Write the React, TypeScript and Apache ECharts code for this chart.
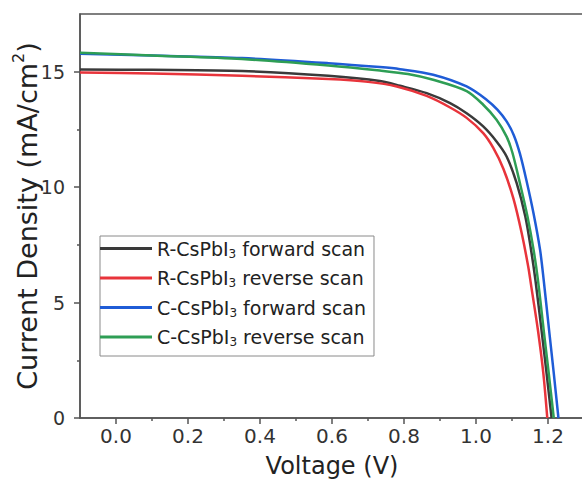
import React, { useEffect, useRef } from "react";
import * as echarts from "echarts";

const FONT = "DejaVu Sans, Liberation Sans, Arial, sans-serif";

// Voltage (V) / current density (mA/cm2)
const rForwardV = [-0.1, 0.1, 0.35, 0.59, 0.733, 0.789, 0.863, 0.928, 0.974, 1.02, 1.057, 1.085, 1.113, 1.137, 1.153, 1.165, 1.182, 1.196, 1.21];
const rForwardJ = [15.1, 15.08, 15.03, 14.82, 14.6, 14.39, 14.07, 13.64, 13.2, 12.63, 11.98, 11.33, 10.17, 8.73, 7.28, 5.98, 3.81, 1.94, 0];

const rReverseV = [-0.1, 0.1, 0.35, 0.59, 0.7, 0.78, 0.863, 0.928, 0.974, 1.02, 1.048, 1.076, 1.104, 1.127, 1.145, 1.155, 1.172, 1.187, 1.198];
const rReverseJ = [14.97, 14.92, 14.82, 14.68, 14.56, 14.36, 13.95, 13.45, 13.0, 12.34, 11.7, 10.8, 9.5, 8.0, 6.56, 5.55, 3.81, 1.94, 0];

const cForwardV = [-0.1, 0.1, 0.35, 0.59, 0.733, 0.789, 0.881, 0.974, 1.03, 1.06, 1.085, 1.105, 1.122, 1.14, 1.16, 1.178, 1.188, 1.203, 1.216, 1.229];
const cForwardJ = [15.78, 15.7, 15.59, 15.37, 15.2, 15.11, 14.87, 14.36, 13.78, 13.35, 12.85, 12.25, 11.45, 10.3, 8.85, 7.28, 5.98, 3.81, 1.94, 0];

const cReverseV = [-0.1, 0.1, 0.35, 0.59, 0.733, 0.811, 0.881, 0.974, 1.02, 1.057, 1.085, 1.101, 1.122, 1.143, 1.16, 1.172, 1.188, 1.202, 1.216];
const cReverseJ = [15.82, 15.7, 15.55, 15.27, 15.05, 14.9, 14.65, 14.16, 13.57, 12.92, 12.19, 11.5, 10.17, 8.73, 7.28, 5.98, 3.81, 1.94, 0];

const seriesNames = [
  "R-CsPbI3 forward scan",
  "R-CsPbI3 reverse scan",
  "C-CsPbI3 forward scan",
  "C-CsPbI3 reverse scan",
];
const seriesColors = ["#3a3a3a", "#e8343b", "#1f5cd6", "#2e9e55"];

const xMajorTicks = [0, 0.2, 0.4, 0.6, 0.8, 1.0, 1.2];
const xMinorTicks = [0.1, 0.3, 0.5, 0.7, 0.9, 1.1];
const yMajorTicks = [0, 5, 10, 15];
const yMinorTicks = [2.5, 7.5, 12.5];

const AXIS_COLOR = "#555";

function pairs(v: number[], j: number[]) {
  return v.map((x, i) => [x, j[i]]);
}

export default function App() {
  const ref = useRef<HTMLDivElement>(null);
  useEffect(() => {
    if (!ref.current) return;
    const chart = echarts.init(ref.current, undefined, { renderer: "svg" });
    const data = [
      pairs(rForwardV, rForwardJ),
      pairs(rReverseV, rReverseJ),
      pairs(cForwardV, cForwardJ),
      pairs(cReverseV, cReverseJ),
    ];
    const axisLineStyle = { color: AXIS_COLOR, width: 1.5 };
    chart.setOption({
      animation: false,
      backgroundColor: "#fff",
      grid: {
        left: 80,
        right: -2,
        top: 14,
        bottom: 65,
        containLabel: false,
        outerBoundsMode: "none",
        show: true,
        borderColor: AXIS_COLOR,
        borderWidth: 1.5,
        backgroundColor: "transparent",
      },
      legend: {
        orient: "vertical",
        left: 100,
        top: 236,
        icon: "rect",
        itemWidth: 52,
        itemHeight: 3,
        itemGap: 9,
        padding: [3, 8, 8, 0],
        borderColor: "#8a8a8a",
        borderWidth: 1,
        backgroundColor: "#fff",
        data: seriesNames,
        formatter: (name: string) => {
          const [pre, post] = name.split("I3 ");
          return `{n|${pre}I}{s|3}{n| ${post}}`;
        },
        textStyle: {
          rich: {
            n: { fontSize: 19, lineHeight: 22, fontFamily: FONT, color: "#222" },
            s: { fontSize: 12, lineHeight: 10, verticalAlign: "bottom", fontFamily: FONT, color: "#222" },
          },
        },
      },
      xAxis: [
        {
          type: "value",
          min: -0.1,
          max: 1.3,
          position: "bottom",
          name: "Voltage (V)",
          nameLocation: "middle",
          nameGap: 36,
          nameTextStyle: { fontSize: 24, fontFamily: FONT, color: "#222" },
          axisLine: { show: true, onZero: false, lineStyle: axisLineStyle },
          axisTick: { show: true, inside: false, length: 6, customValues: xMajorTicks, lineStyle: axisLineStyle },
          axisLabel: {
            customValues: xMajorTicks,
            formatter: (v: number) => v.toFixed(1),
            fontSize: 20,
            fontFamily: FONT,
            color: "#333",
            margin: 8,
          },
          splitLine: { show: false },
        },
        {
          type: "value",
          min: -0.1,
          max: 1.3,
          position: "bottom",
          axisLine: { show: false, onZero: false },
          axisTick: { show: true, inside: false, length: 3, customValues: xMinorTicks, lineStyle: axisLineStyle },
          axisLabel: { show: false },
          splitLine: { show: false },
        },
      ],
      yAxis: [
        {
          type: "value",
          min: 0,
          max: 17.5,
          position: "left",
          name: "{a|Current Density (mA/cm}{b|2}{a|)}",
          nameLocation: "middle",
          nameGap: 35,
          nameMoveOverlap: false,
          nameRotate: 90,
          nameTextStyle: {
            rich: {
              a: { fontSize: 27, lineHeight: 35, fontFamily: FONT, color: "#222" },
              b: { fontSize: 16, lineHeight: 16, verticalAlign: "top", fontFamily: FONT, color: "#222" },
            },
          },
          axisLine: { show: true, onZero: false, lineStyle: axisLineStyle },
          axisTick: { show: true, inside: false, length: 6, customValues: yMajorTicks, lineStyle: axisLineStyle },
          axisLabel: {
            customValues: yMajorTicks,
            fontSize: 19,
            fontFamily: FONT,
            color: "#333",
            margin: 15,
          },
          splitLine: { show: false },
        },
        {
          type: "value",
          min: 0,
          max: 17.5,
          position: "left",
          axisLine: { show: false, onZero: false },
          axisTick: { show: true, inside: false, length: 3, customValues: yMinorTicks, lineStyle: axisLineStyle },
          axisLabel: { show: false },
          splitLine: { show: false },
        },
      ],
      series: seriesNames.map((name, i) => ({
        name,
        type: "line",
        xAxisIndex: 0,
        yAxisIndex: 0,
        data: data[i],
        symbol: "none",
        smooth: 0.3,
        color: seriesColors[i],
        lineStyle: { width: 2.5, color: seriesColors[i] },
      })),
    });
    return () => chart.dispose();
  }, []);
  return (
    <div
      ref={ref}
      style={{ position: "absolute", left: 0, top: 0, width: 582, height: 483, background: "#fff" }}
    />
  );
}
